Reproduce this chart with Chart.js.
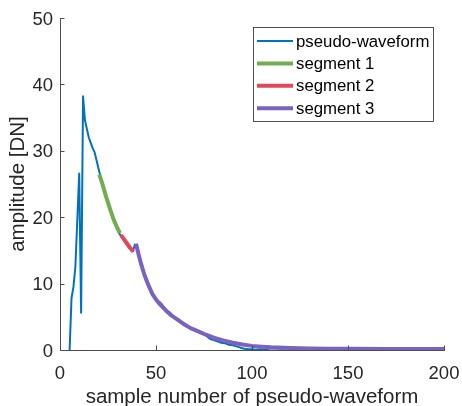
<!DOCTYPE html>
<html>
<head>
<meta charset="utf-8">
<script src="https://cdn.jsdelivr.net/npm/chart.js@4/dist/chart.umd.min.js"></script>
<style>
html,body{margin:0;padding:0;background:#fff;}
#wrap{width:462px;height:406px;}
</style>
</head>
<body>
<div id="wrap"><canvas id="c" width="462" height="406"></canvas></div>
<script>
// ---- data ----
const seriesNames = ['pseudo-waveform', 'segment 1', 'segment 2', 'segment 3'];
const xTicks = [0, 50, 100, 150, 200];
const yTicks = [0, 10, 20, 30, 40, 50];

const waveX = [5,6,7,8,9,10,11,12,13,14,15,16,17,18,19,20,21,22,23,24,25,26,27,28,29,30,31,32,33,34,35,36,37,38,39,40,41,42,43,44,45,46,47,48,49,50,51,52,53,54,55,56,57,58,59,60,61,62,63,64,65,66,68,70,72,74,76,78,80,82,84,86,88,90,92,94,96,98,100,102,104,106,108,110,115,120,125,130,140,150,160,170,180,190,200];
const waveY = [0,7.8,9.5,12.5,19.5,26.6,5.6,38.2,34.6,33.3,32.0,31.2,30.4,29.8,28.6,27.4,26.2,25.2,24.1,23.0,22.1,21.2,20.3,19.5,18.8,18.1,17.5,17.1,16.7,16.2,15.8,15.4,15.1,14.9,15.9,15.6,14.3,13.2,12.2,11.3,10.5,9.8,9.1,8.5,8.0,7.6,7.3,7.2,6.9,6.5,6.1,5.8,5.7,5.4,5.0,4.8,4.7,4.5,4.3,4.0,3.8,3.6,3.3,3.0,2.8,2.5,2.2,1.7,1.5,1.3,1.1,1.0,0.8,0.7,0.55,0.35,0.2,0.1,0.1,0.05,0.1,0.05,0.15,0.25,0.2,0.25,0.2,0.2,0.18,0.15,0.15,0.12,0.12,0.12,0.1];

const seg1X = [20.5, 22, 24, 26, 28, 30, 31.2];
const seg1Y = [26.4, 25.1, 23.1, 21.3, 19.6, 18.3, 17.6];

const seg2X = [31.8, 33, 35, 36.5, 38.2];
const seg2Y = [17.3, 16.8, 16.0, 15.4, 14.8];

const seg3X = [39.6,41,42,44,46,48,50,52,55,58,61,64,68,72,76,80,85,90,95,100,105,110,120,130,140,150,170,200];
const seg3Y = [16.0,14.3,13.2,11.3,9.8,8.5,7.6,6.9,6.0,5.2,4.6,4.0,3.3,2.8,2.3,1.85,1.45,1.1,0.82,0.62,0.5,0.4,0.3,0.24,0.2,0.18,0.16,0.15];

// ---- helpers ----
const toPts = (xs, ys) => xs.map((x, i) => ({x: x, y: ys[i]}));
const FONT = '"Liberation Sans", Arial, Helvetica, sans-serif';
const TXT = '#262626';
const AXIS = '#4d4d4d';

const colors = ['#0072BD', '#72AD4E', '#E3485A', '#7B61C0'];
const widths = [2, 4, 4, 4];
const pts = [toPts(waveX, waveY), toPts(seg1X, seg1Y), toPts(seg2X, seg2Y), toPts(seg3X, seg3Y)];

const datasets = seriesNames.map((name, i) => ({
  label: name,
  data: pts[i],
  showLine: true,
  borderColor: colors[i],
  backgroundColor: colors[i],
  borderWidth: widths[i],
  pointRadius: 0,
  pointHoverRadius: 0,
  tension: 0,
  fill: false,
  order: i === 0 ? 10 : 4 - i,
  borderCapStyle: 'butt',
  borderJoinStyle: 'round'
}));

const tickPlugin = {
  id: 'inwardTicks',
  afterDatasetsDraw(chart) {
    const ctx = chart.ctx;
    const xs = chart.scales.x, ys = chart.scales.y;
    const a = chart.chartArea;
    ctx.save();
    ctx.strokeStyle = AXIS;
    ctx.lineWidth = 1;
    ctx.beginPath();
    xTicks.forEach(v => {
      const px = Math.round(xs.getPixelForValue(v)) + 0.5;
      ctx.moveTo(px, a.bottom);
      ctx.lineTo(px, a.bottom - 4.5);
    });
    yTicks.forEach(v => {
      const py = Math.round(ys.getPixelForValue(v)) + 0.5;
      ctx.moveTo(a.left, py);
      ctx.lineTo(a.left + 4.5, py);
    });
    ctx.stroke();
    ctx.restore();
  }
};

const legendPlugin = {
  id: 'insideLegend',
  afterDraw(chart) {
    const ctx = chart.ctx;
    const x0 = 253.5, y0 = 27.5, w = 180, h = 94;
    ctx.save();
    ctx.fillStyle = '#fff';
    ctx.fillRect(x0, y0, w, h);
    ctx.strokeStyle = '#262626';
    ctx.lineWidth = 0.8;
    ctx.strokeRect(x0, y0, w, h);
    ctx.font = '16.8px ' + FONT;
    ctx.textBaseline = 'middle';
    ctx.textAlign = 'left';
    chart.data.datasets.forEach((ds, i) => {
      const y = 41 + i * 22.4;
      ctx.strokeStyle = ds.borderColor;
      ctx.lineWidth = ds.borderWidth;
      ctx.beginPath();
      ctx.moveTo(257, y);
      ctx.lineTo(293, y);
      ctx.stroke();
      ctx.fillStyle = '#000';
      ctx.fillText(ds.label, 296, y + 1);
    });
    ctx.restore();
  }
};

new Chart(document.getElementById('c'), {
  type: 'scatter',
  data: { datasets: datasets },
  options: {
    responsive: false,
    animation: false,
    devicePixelRatio: 1,
    layout: { padding: { left: 0, right: 18, top: 18, bottom: 0 } },
    plugins: {
      legend: { display: false },
      tooltip: { enabled: false },
      title: { display: false }
    },
    scales: {
      x: {
        type: 'linear',
        min: 0, max: 200,
        afterFit(s) { s.height = 56; s.paddingLeft = 0; s.paddingRight = 0; },
        afterBuildTicks(s) { s.ticks = xTicks.map(v => ({value: v})); },
        ticks: { font: { family: FONT, size: 18.5 }, color: TXT, padding: 13, maxRotation: 0, autoSkip: false },
        grid: { display: false, drawTicks: false, drawOnChartArea: false },
        border: { display: true, color: AXIS, width: 1 },
        title: { display: true, text: 'sample number of pseudo-waveform', color: TXT, font: { family: FONT, size: 20.5 }, padding: { top: 0, bottom: -4 } }
      },
      y: {
        type: 'linear',
        min: 0, max: 50,
        afterFit(s) { s.width = 60; s.paddingTop = 0; s.paddingBottom = 0; },
        afterBuildTicks(s) { s.ticks = yTicks.map(v => ({value: v})); },
        ticks: { font: { family: FONT, size: 18.5 }, color: TXT, padding: 7, labelOffset: 1.5, autoSkip: false },
        grid: { display: false, drawTicks: false, drawOnChartArea: false },
        border: { display: true, color: AXIS, width: 1 },
        title: { display: true, text: 'amplitude [DN]', color: TXT, font: { family: FONT, size: 20.5 }, padding: { top: 6, bottom: 0 } }
      }
    }
  },
  plugins: [tickPlugin, legendPlugin]
});
</script>
</body>
</html>
